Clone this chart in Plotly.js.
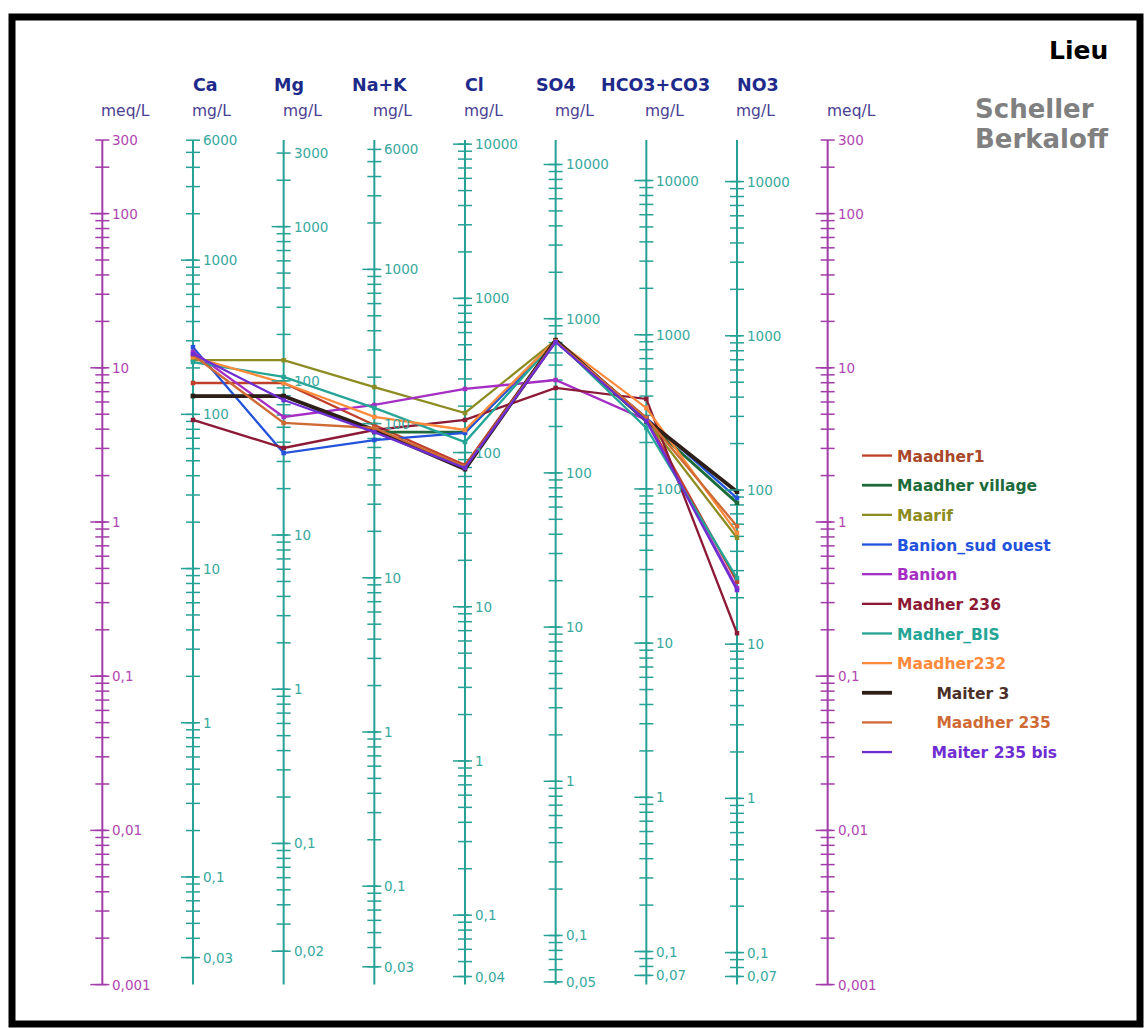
<!DOCTYPE html>
<html><head><meta charset="utf-8">
<script src="https://cdn.plot.ly/plotly-3.0.1.min.js"></script>
<style>html,body{margin:0;padding:0;background:#fff;} #chart{width:1144px;height:1028px;}</style>
</head><body><div id="chart"></div>
<script>
// ---------------- DATA ----------------
const IONS = ['Ca', 'Mg', 'Na+K', 'Cl', 'SO4', 'HCO3+CO3', 'NO3'];
const EQ_WEIGHT = [20.04, 12.15, 23.0, 35.45, 48.03, 61.02, 62.0]; // mg per meq
const MEQ_MIN = 0.001, MEQ_MAX = 300;
const MEQ_LABELS = [300, 100, 10, 1, 0.1, 0.01, 0.001];
const CA_LABELS   = [6000, 1000, 100, 10, 1, 0.1, 0.03];
const MG_LABELS   = [3000, 1000, 100, 10, 1, 0.1, 0.02];
const NAK_LABELS  = [6000, 1000, 100, 10, 1, 0.1, 0.03];
const CL_LABELS   = [10000, 1000, 100, 10, 1, 0.1, 0.04];
const SO4_LABELS  = [10000, 1000, 100, 10, 1, 0.1, 0.05];
const HCO3_LABELS = [10000, 1000, 100, 10, 1, 0.1, 0.07];
const NO3_LABELS  = [10000, 1000, 100, 10, 1, 0.1, 0.07];
const ION_LABELS = [CA_LABELS, MG_LABELS, NAK_LABELS, CL_LABELS, SO4_LABELS, HCO3_LABELS, NO3_LABELS];

const SERIES_NAMES = ['Maadher1', 'Maadher village', 'Maarif', 'Banion_sud ouest', 'Banion',
  'Madher 236', 'Madher_BIS', 'Maadher232', 'Maiter 3', 'Maadher 235', 'Maiter 235 bis'];
// values in meq/L : Ca, Mg, Na+K, Cl, SO4, HCO3+CO3, NO3
const maadher1       = [7.97, 7.97, 4.26, 2.34, 15.1, 4.73, 0.41];
const maadherVillage = [6.56, 6.56, 3.83, 3.83, 15.1, 4.45, 1.33];
const maarif         = [11.2, 11.2, 7.5, 5.09, 15.1, 4.59, 0.79];
const banionSudOuest = [13.6, 2.80, 3.40, 3.78, 14.7, 4.73, 1.43];
const banion         = [12.7, 4.80, 5.74, 7.29, 8.33, 4.59, 0.373];
const madher236      = [4.59, 3.02, 3.95, 4.59, 7.40, 6.28, 0.19];
const madherBIS      = [10.9, 8.72, 5.49, 3.30, 15.1, 4.07, 0.433];
const maadher232     = [11.75, 7.97, 4.80, 3.95, 15.1, 5.49, 0.85];
const maiter3        = [6.56, 6.56, 3.95, 2.20, 15.1, 4.59, 1.57];
const maadher235     = [12.1, 4.39, 4.07, 2.28, 14.9, 4.73, 0.94];
const maiter235bis   = [12.3, 6.18, 3.83, 2.24, 14.7, 4.52, 0.362];
const SERIES_VALUES = [maadher1, maadherVillage, maarif, banionSudOuest, banion,
  madher236, madherBIS, maadher232, maiter3, maadher235, maiter235bis];

// ---------------- STYLE ----------------
const SERIES_COLORS = ['#c0402a', '#1d6b3a', '#8c8c22', '#2352dc', '#a52ec4',
  '#8c1a36', '#25a596', '#ff8a3c', '#2e1e18', '#cf6a34', '#6e2ed2'];
const SERIES_WIDTH = [2.3, 2.8, 2.3, 2.3, 2.3, 2.3, 2.3, 2.3, 3.8, 2.3, 2.3];
const LEGEND_INDENT = [0, 0, 0, 0, 0, 0, 0, 0, 8, 8, 7];
const TEXT_COLORS = ['#a9472a', '#1d6b3a', '#8c8c22', '#2352dc', '#a52ec4',
  '#8c1a36', '#25a596', '#ff8a3c', '#4a3028', '#cf6a34', '#6e2ed2'];
const TEAL = '#26a195', TEAL_TXT = '#38a89e', PURPLE = '#a23ca8', PURPLE_TXT = '#b045b2';
const W = 1144, H = 1028;
const X_RANGE = [-2.1286, 10.489];
const Y_RANGE = [-3.2815, 3.3852];
const MEQ_AXES = [-1, 7];
const NAME_SHIFT = [0, -10, -22, 0, -20, -45, 0];
const FONT = 'DejaVu Sans, Arial, sans-serif';
const py = p => 1 - p / H;
const px = p => p / W;
const fmt = v => String(v).replace('.', ',');

const traces = [];
const shapes = [];
const annotations = [];

function tickValues(w) {
  const out = [];
  for (let e = -3; e <= 5; e++) for (let m = 1; m <= 9; m++) {
    const v = m * Math.pow(10, e);
    const meq = v / w;
    if (meq >= MEQ_MIN * 0.9999 && meq <= MEQ_MAX * 1.0001) out.push({v: v, meq: meq, major: m === 1});
  }
  return out;
}

function buildAxis(idx, w, labels, color, txtColor) {
  traces.push({x: [idx, idx], y: [MEQ_MIN, MEQ_MAX], mode: 'lines', line: {color: color, width: 2},
    hoverinfo: 'skip', showlegend: false});
  const ticks = tickValues(w);
  traces.push({x: ticks.map(() => idx), y: ticks.map(t => t.meq), mode: 'markers',
    marker: {symbol: 'line-ew', size: 10, line: {color: color, width: 1.5}},
    hoverinfo: 'skip', showlegend: false});
  const bottom = labels[labels.length - 1];
  ticks.forEach(t => {
    if (t.major || Math.abs(t.v - bottom) < 1e-9) {
      shapes.push({type: 'line', xref: 'x', yref: 'y', xsizemode: 'pixel', xanchor: idx,
        x0: -12, x1: 4, y0: t.meq, y1: t.meq,
        line: {color: color, width: 1.5}});
    }
  });
  labels.forEach(v => {
    annotations.push({xref: 'x', yref: 'y', x: idx, y: Math.log10(v / w), xanchor: 'left',
      yanchor: 'middle', xshift: 8, text: fmt(v), showarrow: false,
      font: {family: FONT, size: 13.5, color: txtColor}});
  });
}

MEQ_AXES.forEach(i => buildAxis(i, 1, MEQ_LABELS, PURPLE, PURPLE_TXT));
IONS.forEach((ion, i) => buildAxis(i, EQ_WEIGHT[i], ION_LABELS[i], TEAL, TEAL_TXT));

// unit labels
[-1, 0, 1, 2, 3, 4, 5, 6, 7].forEach(i => {
  annotations.push({xref: 'x', yref: 'paper', x: i, y: py(111), xanchor: 'left', yanchor: 'middle',
    xshift: -3, text: (i < 0 || i > 6) ? 'meq/L' : 'mg/L', showarrow: false,
    font: {family: FONT, size: 15.5, color: '#4a4192'}});
});
// ion names
IONS.forEach((ion, i) => {
  annotations.push({xref: 'x', yref: 'paper', x: i, y: py(85), xanchor: 'left', yanchor: 'middle',
    xshift: NAME_SHIFT[i] - 2, text: '<b>' + ion + '</b>', showarrow: false,
    font: {family: FONT, size: 17.5, color: '#1e2a8a'}});
});
annotations.push({xref: 'paper', yref: 'paper', x: px(1110), y: py(50), xanchor: 'right', yanchor: 'middle',
  text: '<b>Lieu</b>', showarrow: false, font: {family: FONT, size: 25, color: '#000'}});
annotations.push({xref: 'paper', yref: 'paper', x: px(973), y: py(109), xanchor: 'left', yanchor: 'middle',
  text: '<b>Scheller</b>', showarrow: false, font: {family: FONT, size: 26, color: '#808080'}});
annotations.push({xref: 'paper', yref: 'paper', x: px(973), y: py(139), xanchor: 'left', yanchor: 'middle',
  text: '<b>Berkaloff</b>', showarrow: false, font: {family: FONT, size: 26, color: '#808080'}});

// data series
const ionIdx = IONS.map((_, i) => i);
SERIES_NAMES.forEach((name, s) => {
  traces.push({x: ionIdx, y: SERIES_VALUES[s], mode: 'lines', legendgroup: 'g' + s,
    name: '\u00a0'.repeat(LEGEND_INDENT[s]) + '<b><span style="color:' + TEXT_COLORS[s] + '">' + name + '</span></b>',
    line: {color: SERIES_COLORS[s], width: SERIES_WIDTH[s]}, hoverinfo: 'skip'});
  traces.push({x: ionIdx, y: SERIES_VALUES[s], mode: 'markers', legendgroup: 'g' + s, showlegend: false,
    marker: {symbol: 'square', size: 4.5, color: SERIES_COLORS[s]}, hoverinfo: 'skip'});
});

// frame
shapes.push({type: 'rect', xref: 'paper', yref: 'paper', x0: px(12), x1: px(1140), y0: py(1024), y1: py(17),
  line: {color: '#000', width: 7}, fillcolor: 'rgba(0,0,0,0)'});

const layout = {
  width: W, height: H, margin: {l: 0, r: 0, t: 0, b: 0},
  paper_bgcolor: '#fff', plot_bgcolor: '#fff',
  xaxis: {range: X_RANGE, visible: false, fixedrange: true},
  yaxis: {type: 'log', range: Y_RANGE, visible: false, fixedrange: true},
  showlegend: true,
  legend: {x: px(857), y: py(439), xanchor: 'left', yanchor: 'top', bgcolor: 'rgba(0,0,0,0)',
    font: {family: FONT, size: 15.5, color: '#333'}, tracegroupgap: 6.5, itemwidth: 30},
  shapes: shapes, annotations: annotations
};
Plotly.newPlot('chart', traces, layout, {staticPlot: true, displayModeBar: false});
</script></body></html>
